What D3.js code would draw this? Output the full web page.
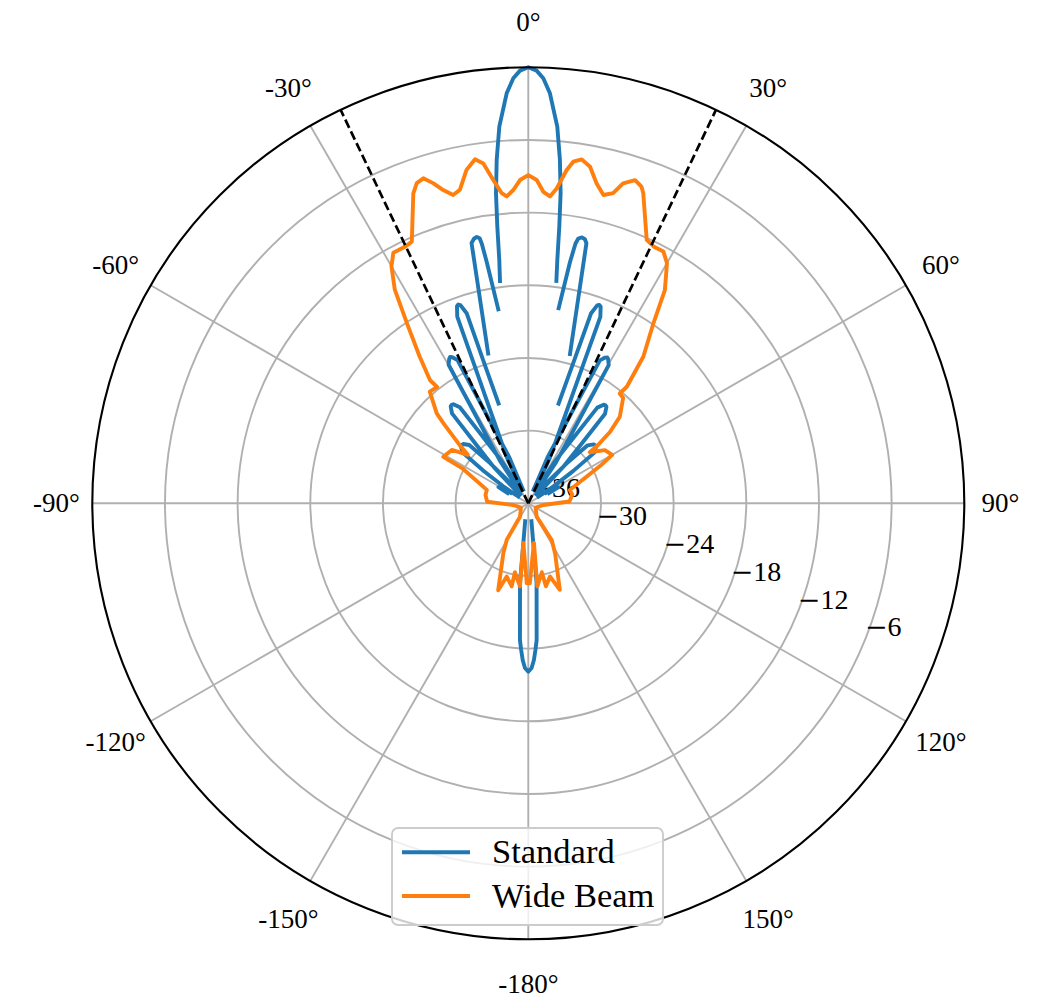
<!DOCTYPE html>
<html>
<head>
<meta charset="utf-8">
<script src="https://cdn.jsdelivr.net/npm/d3@7"></script>
<style>
  html, body { margin: 0; padding: 0; background: #ffffff; }
  svg { display: block; }
  text { font-family: "Liberation Serif", "DejaVu Serif", serif; fill: #000; }
</style>
</head>
<body>
<svg id="chart" width="1048" height="998"></svg>
<script>
// Antenna gain patterns: azimuth in degrees (clockwise from boresight) and gain in dB.
// null marks a break where the gain falls below the -36 dB plot floor.
const standardDeg = [
  -63.5, -61.5, -60.3, -59.5, null,
  -55.8, -55.8, -54.0, -52.25, -49.9, -48.8, -47.7, -45.35, -43.6, -41.8, -41.8, null,
  -44.9, -43.6, -41.5, -40.3, -38.7, -37.9, -37.1, -35.5, -34.3, -32.2, -30.9, null,
  -35.1, -33.8, -31.7, -30.5, -29.9, -28.7, -28.1, -27.5, -26.3, -25.7, -24.5, -22.4, -21.1, null,
  -26.4, -25.1, -22.27, -21.3, -20.83, -19.9, -19.4, -18.9, -17.97, -17.5, -16.6, null,
  -15.0, -12.3, -11.6, -10.95, -10.4, -10.16, -9.77, -8.8, null,
  -7.26, -6.8, -6.39, -5.95, -5.26, -4.40, -3.02, -2.02, -1.10, 0,
  1.10, 2.02, 3.02, 4.40, 5.26, 5.95, 6.39, 6.8, 7.2, null,
  8.85, 9.8, 10.3, 10.7, 11.4, 12.1, 12.6, 15.6, null,
  16.9, 17.8, 18.27, 19.2, 19.7, 20.2, 21.13, 21.6, 22.57, 25.4, 26.7, null,
  21.4, 22.7, 24.8, 26.0, 26.6, 27.8, 28.4, 29.0, 30.2, 30.8, 32.0, 34.1, 35.4, null,
  31.2, 32.5, 34.6, 35.8, 37.4, 38.2, 39.0, 40.6, 41.8, 43.9, 45.2, null,
  42.1, 42.1, 43.9, 45.65, 48.0, 49.1, 50.2, 52.55, 54.3, 56.1, 56.1, null,
  59.8, 60.6, 61.8, 63.8, null,
  170, 174.05, 175.94, 176.5, 177.2, 177.95, 178.85, 180,
  181.15, 182.05, 182.8, 183.5, 184.06, 185.95, 190
];
const standardDb = [
  -34.1, -33.2, -33.4, -34.3, null,
  -35.0, -33.5, -31.45, -29.15, -28.73, -28.7, -28.73, -29.15, -31.45, -33.5, -35.0, null,
  -34.8, -31.9, -29.4, -26.26, -25.75, -25.7, -25.75, -26.26, -29.4, -31.9, -34.8, null,
  -34.8, -31.9, -29.4, -26.1, -22.8, -22.4, -22.3, -22.4, -22.8, -26.1, -29.4, -31.9, -34.8, null,
  -34.8, -31.9, -27.7, -23.6, -19.5, -18.7, -18.6, -18.7, -19.5, -23.6, -27.4, null,
  -23.2, -14.0, -13.7, -13.6, -13.75, -14.2, -15.8, -19.8, null,
  -17.5, -15.77, -13.0, -10.26, -7.53, -4.81, -2.10, -0.88, -0.27, 0,
  -0.27, -0.88, -2.10, -4.81, -7.53, -10.26, -13.0, -15.77, -17.5, null,
  -19.7, -15.8, -14.2, -13.75, -13.6, -13.7, -14.0, -23.2, null,
  -27.4, -23.6, -19.5, -18.7, -18.6, -18.7, -19.5, -23.6, -27.7, -31.9, -34.8, null,
  -34.8, -31.9, -29.4, -26.1, -22.8, -22.4, -22.3, -22.4, -22.8, -26.1, -29.4, -31.9, -34.8, null,
  -34.8, -31.9, -29.4, -26.26, -25.75, -25.7, -25.75, -26.26, -29.4, -31.9, -34.8, null,
  -35.0, -33.5, -31.45, -29.15, -28.73, -28.7, -28.73, -29.15, -31.45, -33.5, -35.0, null,
  -34.3, -33.4, -33.2, -34.1, null,
  -34.5, -29.4, -26.3, -24.7, -23.9, -23.05, -22.4, -22.1,
  -22.4, -23.05, -23.9, -24.7, -26.3, -29.4, -34.5
];

const wideDeg = [
  -180, -178.9, -172.9, -174.3, -169.0, -168.7, -163.6, -160.9, -153.4, -149.5, -148.2,
  -120, -96.5, -87.8, -79.1, -72.1, -62.0, -61.3, -55.1, -51.3, -49.4, -46.7, -45.5,
  -41.4, -38.1, -38.6, -36.5, -34.0, -32.0, -30.0, -28.3, -25.7, -24.0,
  -20.35, -19.2, -17.9, -16.5, -15.2, -13.7, -12.3, -10.5, -8.8, -7.54, -6.18, -4.9, -4.03,
  -2.74, -1.47, 0, 1.49, 2.76, 4.05, 5.15, 6.57, 7.5, 8.83, 10.4, 12.06, 13.7, 15.3, 16.5,
  18.3, 19.7, 20.35, 24.2, 26.0, 28.2, 30.0, 32.65, 34.8, 38.1, 40.2, 39.8, 42.0,
  46.6, 48.9, 50.1, 50.3, 55.2, 60.0, 62.5, 72.3, 79.0, 87.5, 96.5,
  120, 147.9, 147.5, 151.9, 160.0, 163.5, 168.0, 168.9, 173.8, 171.9, 178.9, 180
];
const wideDb = [
  -29.4, -29.4, -32.7, -29.1, -30.2, -29.0, -29.7, -28.4, -31.4, -32.5, -34.7,
  -35.3, -34.75, -32.6, -32.4, -32.4, -29.8, -28.0, -28.3, -29.6, -28.4, -26.4, -25.4,
  -23.7, -23.8, -23.0, -20.9, -18.1, -15.2, -13.4, -12.5, -12.5, -12.35,
  -8.7, -8.0, -7.8, -8.45, -9.2, -9.8, -9.5, -8.0, -7.26, -7.7, -9.15, -10.3, -10.6,
  -10.1, -9.3, -8.9, -9.3, -10.25, -10.6, -9.9, -8.3, -7.55, -7.26, -7.75, -9.0, -9.8, -9.45, -8.45,
  -7.9, -8.25, -8.7, -12.15, -12.4, -12.4, -13.1, -15.1, -17.9, -20.6, -23.4, -24.2, -24.3,
  -25.6, -27.05, -28.5, -29.4, -28.3, -28.0, -29.3, -32.4, -32.3, -32.6, -34.75,
  -35.3, -34.7, -32.4, -31.3, -28.4, -29.7, -29.0, -30.2, -29.1, -32.7, -29.4, -29.4
];

const beamEdgeDeg = [-25.5, 25.5];
const radialTicks = [-36, -30, -24, -18, -12, -6];
const angleTicks = [0, 30, 60, 90, 120, 150, 180, 210, 240, 270, 300, 330];
const angleLabels = ["0°", "30°", "60°", "90°", "120°", "150°", "-180°", "-150°", "-120°", "-90°", "-60°", "-30°"];
const seriesNames = ["Standard", "Wide Beam"];
const seriesColors = ["#1f77b4", "#ff7f0e"];

const svg = d3.select("#chart");
const cx = 528.3, cy = 503.3, R = 436;

const rScale = d3.scaleLinear().domain([-36, 0]).range([0, R]);
const aScale = d3.scaleLinear().domain([0, 360]).range([0, 2 * Math.PI]);
const polar = (deg, rad) => [rad * Math.sin(aScale(deg)), -rad * Math.cos(aScale(deg))];

const g = svg.append("g").attr("transform", `translate(${cx},${cy})`);

// grid: range rings and spokes
g.append("g").selectAll("circle")
  .data(radialTicks.filter(d => d > -36))
  .join("circle")
  .attr("r", d => rScale(d))
  .attr("fill", "none")
  .attr("stroke", "#b0b0b0")
  .attr("stroke-width", 1.9);

g.append("g").selectAll("line")
  .data(angleTicks)
  .join("line")
  .attr("x1", 0).attr("y1", 0)
  .attr("x2", d => polar(d, R)[0])
  .attr("y2", d => polar(d, R)[1])
  .attr("stroke", "#b0b0b0")
  .attr("stroke-width", 1.9);

// radial tick labels along the 112.5° ray (math minus sign is wide)
const labelDeg = 112.5;
const rLabels = g.append("g").selectAll("text")
  .data(radialTicks)
  .join("text")
  .attr("x", d => polar(labelDeg, rScale(d))[0] + 1)
  .attr("y", d => polar(labelDeg, rScale(d))[1] - 6)
  .attr("font-size", 28)
  .attr("text-anchor", "start");
rLabels.append("tspan")
  .style("font-family", "'DejaVu Serif', serif")
  .attr("font-size", 27)
  .text("\u2212");
rLabels.append("tspan").text(d => Math.abs(d));

// angular tick labels; the text box sits a little further out near the poles
const labelRadius = d => 472 + 9 * Math.abs(Math.cos(aScale(d)));
g.append("g").selectAll("text")
  .data(angleTicks)
  .join("text")
  .attr("x", d => polar(d, labelRadius(d))[0])
  .attr("y", d => polar(d, labelRadius(d))[1])
  .attr("font-size", 27)
  .attr("text-anchor", "middle")
  .attr("dominant-baseline", "central")
  .text((d, i) => angleLabels[i]);

// pattern traces
const toRows = (degs, dbs) => degs.map((d, i) => ({ deg: d, db: dbs[i] }));
const line = d3.lineRadial()
  .defined(d => d.db !== null && d.deg !== null)
  .angle(d => aScale(d.deg))
  .radius(d => rScale(d.db));

const series = [toRows(standardDeg, standardDb), toRows(wideDeg, wideDb)];
series.forEach((rows, i) => {
  g.append("path")
    .datum(rows)
    .attr("d", line)
    .attr("fill", "none")
    .attr("stroke", seriesColors[i])
    .attr("stroke-width", 3.9)
    .attr("stroke-linejoin", "round")
    .attr("stroke-linecap", "square");
});

// beam edge markers
g.append("g").selectAll("path")
  .data(beamEdgeDeg)
  .join("path")
  .attr("d", d => line([{ deg: d, db: -36 }, { deg: d, db: 0 }]))
  .attr("fill", "none")
  .attr("stroke", "#000")
  .attr("stroke-width", 2.7)
  .attr("stroke-dasharray", "9 4");

// outer frame
g.append("circle")
  .attr("r", rScale(0))
  .attr("fill", "none")
  .attr("stroke", "#000")
  .attr("stroke-width", 2.1);

// legend
const legend = svg.append("g").attr("transform", "translate(392,828)");
legend.append("rect")
  .attr("width", 271).attr("height", 97)
  .attr("rx", 6).attr("ry", 6)
  .attr("fill", "#ffffff").attr("fill-opacity", 0.8)
  .attr("stroke", "#cccccc").attr("stroke-width", 1.9);
seriesNames.forEach((name, i) => {
  const y = 24.3 + i * 43.7;
  legend.append("line")
    .attr("x1", 10).attr("x2", 78)
    .attr("y1", y).attr("y2", y)
    .attr("stroke", seriesColors[i])
    .attr("stroke-width", 3.9);
  legend.append("text")
    .attr("x", 100).attr("y", y + 11)
    .attr("font-size", 34.5)
    .text(name);
});
</script>
</body>
</html>
